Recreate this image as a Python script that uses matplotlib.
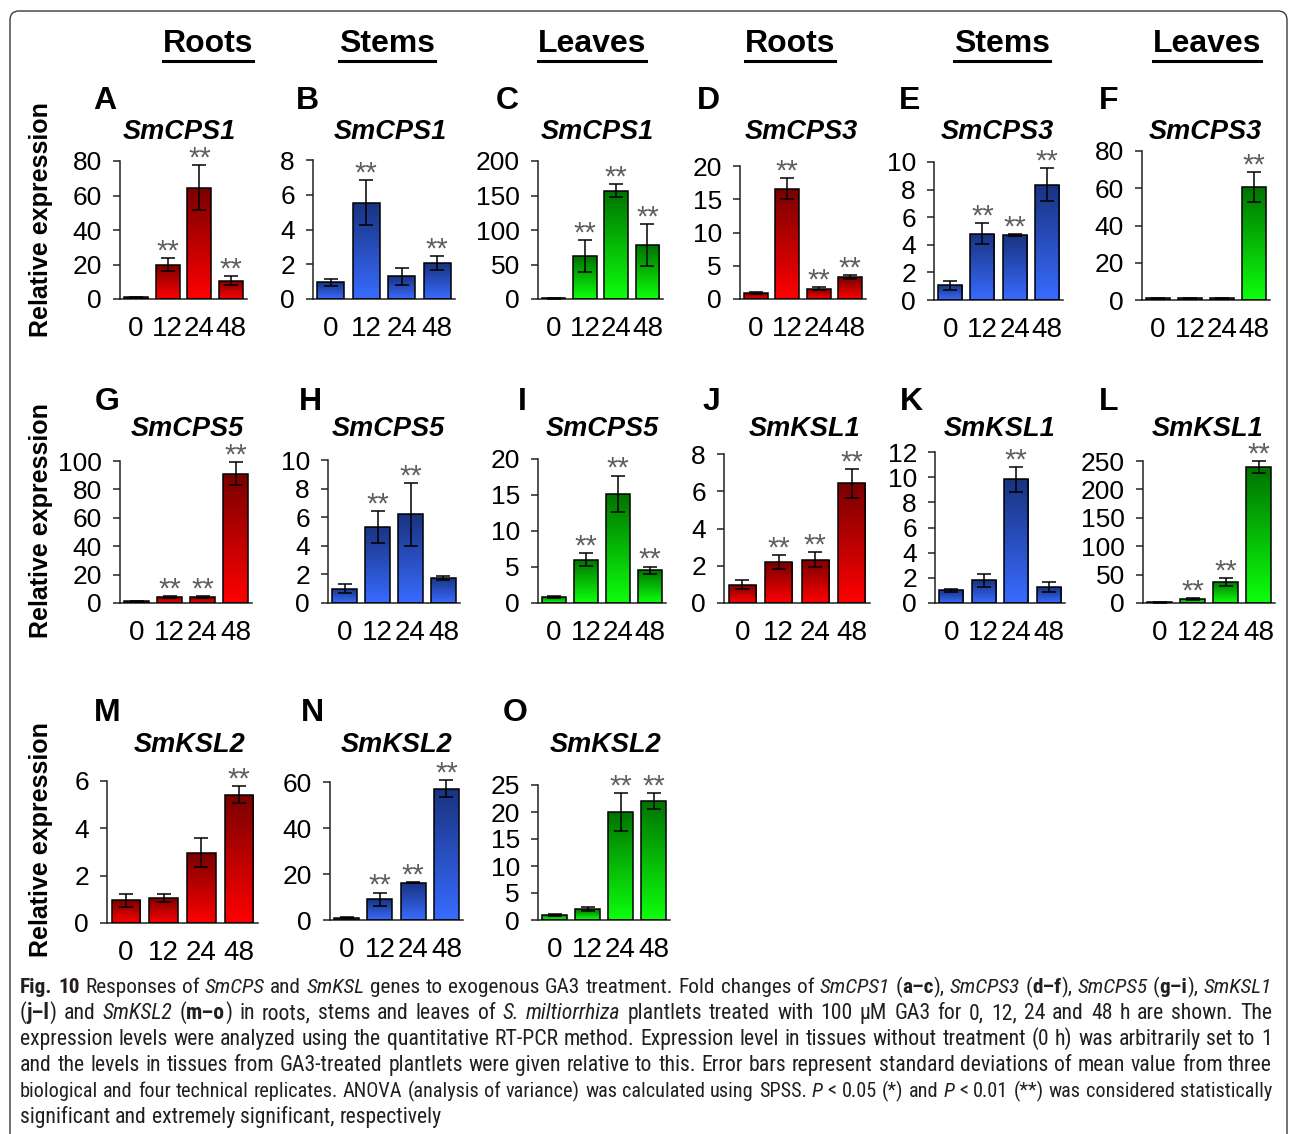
import numpy as np
import matplotlib
matplotlib.use("Agg")
import matplotlib.pyplot as plt
from matplotlib import font_manager
from matplotlib.patches import FancyBboxPatch
from matplotlib.lines import Line2D

W, H = 1290, 1134

hours = ["0", "12", "24", "48"]
tissue_headers = ["Roots", "Stems", "Leaves", "Roots", "Stems", "Leaves"]

# ---- relative expression (mean, SD, significance) ----
# SmCPS1
cps1_roots = [1.0, 20.0, 64.5, 10.6]
cps1_roots_sd = [0.3, 3.8, 12.9, 2.5]
cps1_roots_sig = ["", "**", "**", "**"]
cps1_stems = [0.96, 5.55, 1.3, 2.07]
cps1_stems_sd = [0.2, 1.3, 0.48, 0.4]
cps1_stems_sig = ["", "**", "", "**"]
cps1_leaves = [1.0, 62.0, 157.0, 78.0]
cps1_leaves_sd = [0.5, 23.0, 9.0, 30.0]
cps1_leaves_sig = ["", "**", "**", "**"]
# SmCPS3
cps3_roots = [0.9, 16.6, 1.55, 3.3]
cps3_roots_sd = [0.15, 1.6, 0.2, 0.3]
cps3_roots_sig = ["", "**", "**", "**"]
cps3_stems = [1.08, 4.8, 4.7, 8.35]
cps3_stems_sd = [0.32, 0.75, 0.08, 1.2]
cps3_stems_sig = ["", "**", "**", "**"]
cps3_leaves = [1.0, 1.0, 1.0, 60.8]
cps3_leaves_sd = [0.2, 0.2, 0.2, 8.0]
cps3_leaves_sig = ["", "", "", "**"]
# SmCPS5
cps5_roots = [1.2, 4.2, 4.2, 91.0]
cps5_roots_sd = [0.2, 0.4, 0.4, 8.0]
cps5_roots_sig = ["", "**", "**", "**"]
cps5_stems = [1.0, 5.33, 6.2, 1.75]
cps5_stems_sd = [0.3, 1.1, 2.2, 0.15]
cps5_stems_sig = ["", "**", "**", ""]
cps5_leaves = [0.84, 6.03, 15.2, 4.55]
cps5_leaves_sd = [0.1, 0.85, 2.5, 0.5]
cps5_leaves_sig = ["", "**", "**", "**"]
# SmKSL1
ksl1_roots = [0.99, 2.2, 2.33, 6.42]
ksl1_roots_sd = [0.23, 0.36, 0.42, 0.77]
ksl1_roots_sig = ["", "**", "**", "**"]
ksl1_stems = [1.0, 1.8, 9.83, 1.27]
ksl1_stems_sd = [0.15, 0.5, 1.0, 0.4]
ksl1_stems_sig = ["", "", "**", ""]
ksl1_leaves = [1.0, 7.6, 37.0, 239.0]
ksl1_leaves_sd = [0.2, 1.5, 7.0, 10.6]
ksl1_leaves_sig = ["", "**", "**", "**"]
# SmKSL2
ksl2_roots = [0.96, 1.06, 2.97, 5.42]
ksl2_roots_sd = [0.28, 0.18, 0.62, 0.35]
ksl2_roots_sig = ["", "", "", "**"]
ksl2_stems = [1.0, 9.0, 16.2, 57.1]
ksl2_stems_sd = [0.2, 2.9, 0.3, 3.6]
ksl2_stems_sig = ["", "**", "**", "**"]
ksl2_leaves = [0.93, 1.98, 20.06, 22.04]
ksl2_leaves_sd = [0.1, 0.35, 3.5, 1.5]
ksl2_leaves_sig = ["", "", "**", "**"]

# bar gradients (bottom colour, top colour)
gradients = {
    "red": ((1.0, 0.0, 0.0), (0.47, 0.0, 0.0)),
    "blue": ((0.22, 0.42, 1.0), (0.10, 0.20, 0.50)),
    "green": ((0.05, 1.0, 0.05), (0.0, 0.45, 0.0)),
}

# letter, gene, colour, data, ymax, ystep, axes box in px (left, right, top, zero),
# title centre x, letter centre x, row
panels = [
    ("A", "SmCPS1", "red", cps1_roots, cps1_roots_sd, cps1_roots_sig, 80, 20, (120, 247, 161, 299), 179, 105, 0),
    ("B", "SmCPS1", "blue", cps1_stems, cps1_stems_sd, cps1_stems_sig, 8, 2, (313, 455, 160, 299), 390, 307, 0),
    ("C", "SmCPS1", "green", cps1_leaves, cps1_leaves_sd, cps1_leaves_sig, 200, 50, (538, 663, 161, 299), 597, 507, 0),
    ("D", "SmCPS3", "red", cps3_roots, cps3_roots_sd, cps3_roots_sig, 20, 5, (740, 866, 166, 299), 801, 708, 0),
    ("E", "SmCPS3", "blue", cps3_stems, cps3_stems_sd, cps3_stems_sig, 10, 2, (934, 1063, 162, 300), 997, 910, 0),
    ("F", "SmCPS3", "green", cps3_leaves, cps3_leaves_sd, cps3_leaves_sig, 80, 20, (1142, 1270, 151, 300), 1205, 1109, 0),
    ("G", "SmCPS5", "red", cps5_roots, cps5_roots_sd, cps5_roots_sig, 100, 20, (120, 252, 461, 603), 187, 107, 1),
    ("H", "SmCPS5", "blue", cps5_stems, cps5_stems_sd, cps5_stems_sig, 10, 2, (328, 460, 460, 603), 388, 310, 1),
    ("I", "SmCPS5", "green", cps5_leaves, cps5_leaves_sd, cps5_leaves_sig, 20, 5, (538, 666, 459, 603), 602, 522, 1),
    ("J", "SmKSL1", "red", ksl1_roots, ksl1_roots_sd, ksl1_roots_sig, 8, 2, (724, 870, 454, 603), 805, 711, 1),
    ("K", "SmKSL1", "blue", ksl1_stems, ksl1_stems_sd, ksl1_stems_sig, 12, 2, (935, 1065, 452, 603), 1000, 911, 1),
    ("L", "SmKSL1", "green", ksl1_leaves, ksl1_leaves_sd, ksl1_leaves_sig, 250, 50, (1143, 1275, 461, 603), 1208, 1109, 1),
    ("M", "SmKSL2", "red", ksl2_roots, ksl2_roots_sd, ksl2_roots_sig, 6, 2, (107, 258, 781, 923), 190, 107, 2),
    ("N", "SmKSL2", "blue", ksl2_stems, ksl2_stems_sd, ksl2_stems_sig, 60, 20, (330, 463, 782, 920), 397, 312, 2),
    ("O", "SmKSL2", "green", ksl2_leaves, ksl2_leaves_sd, ksl2_leaves_sig, 25, 5, (538, 670, 785, 920), 606, 515, 2),
]

title_y = [132, 429, 745]
letter_y = [101, 402, 713]
ylabel_y = [220, 521, 840]
header_x = [208, 387, 592, 790, 1002, 1207]

available = {f.name for f in font_manager.fontManager.ttflist}
main_family = "Liberation Sans" if "Liberation Sans" in available else "DejaVu Sans"
plt.rcParams["font.family"] = [main_family, "DejaVu Sans"]

fig = plt.figure(figsize=(W / 100, H / 100), dpi=100)
fig.patch.set_facecolor("white")


def fx(x):
    return x / W


def fy(y):
    return 1 - y / H


def ftext(x, y, s, **kw):
    return fig.text(fx(x), fy(y), s, **kw)


# outer frame with rounded corners
frame = FancyBboxPatch((10 / 100, (H - 1250) / 100), (1287 - 10) / 100, (1250 - 11) / 100,
                       boxstyle="round,pad=0,rounding_size=0.09",
                       transform=fig.dpi_scale_trans, fill=False,
                       edgecolor="#3a3a3a", linewidth=1.0)
fig.add_artist(frame)

renderer = fig.canvas.get_renderer()

# column headers, underlined
for x, name in zip(header_x, tissue_headers):
    t = ftext(x, 52, name, ha="center", va="baseline", fontsize=23, fontweight="bold")
    bb = t.get_window_extent(renderer)
    fig.add_artist(Line2D([bb.x0 / W, bb.x1 / W], [fy(61), fy(61)],
                          transform=fig.transFigure, color="black", linewidth=2.2))

for y in ylabel_y:
    ftext(41, y, "Relative expression", rotation=90, ha="center", va="center",
          fontsize=18, fontweight="bold")

xpos = np.arange(len(hours))
for (letter, gene, cname, mean, sd, sig, ymax, ystep, box, tx, lx, row) in panels:
    left, right, top, zero = box
    ax = fig.add_axes([fx(left), fy(zero), (right - left) / W, (zero - top) / H])
    bars = ax.bar(xpos, mean, width=0.75, facecolor="none", edgecolor="black",
                  linewidth=1.1, zorder=3)
    c_bot, c_top = gradients[cname]
    ramp = np.linspace(0, 1, 128)[:, None, None]
    grad = (np.array(c_bot)[None, None, :] * (1 - ramp) + np.array(c_top)[None, None, :] * ramp)
    for rect in bars:
        x0 = rect.get_x()
        w = rect.get_width()
        h = rect.get_height()
        im = ax.imshow(grad, extent=[x0, x0 + w, 0, h], origin="lower",
                       aspect="auto", interpolation="bilinear", zorder=2)
        im.set_clip_path(rect)
    eb = ax.errorbar(xpos, mean, yerr=sd, fmt="none", ecolor="black", elinewidth=1.1,
                     capsize=4.7, capthick=1.1, zorder=4)
    for a in eb.get_children():
        a.set_clip_on(False)
    for i, s in enumerate(sig):
        if s:
            ax.annotate(s, xy=(xpos[i], mean[i] + sd[i]), xytext=(0, -1),
                        textcoords="offset points", ha="center", va="baseline",
                        fontsize=21, color="#5e5e5e", annotation_clip=False)
    ax.set_xlim(-0.5, 3.5)
    ax.set_ylim(0, ymax)
    ticks = np.arange(0, ymax + 0.001, ystep)
    ax.set_yticks(ticks)
    ax.set_yticklabels([f"{v:g}" for v in ticks])
    ax.set_xticks(xpos)
    ax.set_xticklabels(hours)
    ax.set_facecolor("none")
    for sp in ("top", "right"):
        ax.spines[sp].set_visible(False)
    for sp in ("left", "bottom"):
        ax.spines[sp].set_linewidth(1.1)
        ax.spines[sp].set_color("#222222")
    ax.tick_params(axis="y", direction="out", length=5, width=1.1, pad=8,
                   labelsize=19, color="#222222")
    ax.tick_params(axis="x", length=0, pad=12, labelsize=20)
    ftext(tx, title_y[row], gene, ha="center", va="center", fontsize=19.5,
          fontweight="bold", fontstyle="italic")
    ftext(lx, letter_y[row], letter, ha="center", va="center", fontsize=23,
          fontweight="bold")

# ---- caption ----
cap_family = main_family
for cand in ("Liberation Sans Narrow", "Roboto Condensed", "Open Sans Condensed"):
    if cand in available:
        cap_family = cand
        break

R, B, I = ("normal", "normal"), ("bold", "normal"), ("normal", "italic")
caption_lines = [
    [("Fig. 10", B), (" Responses of ", R), ("SmCPS", I), (" and ", R), ("SmKSL", I),
     (" genes to exogenous GA3 treatment. Fold changes of ", R), ("SmCPS1", I), (" (", R),
     ("a–c", B), ("), ", R), ("SmCPS3", I), (" (", R), ("d–f", B), ("), ", R), ("SmCPS5", I),
     (" (", R), ("g–i", B), ("), ", R), ("SmKSL1", I)],
    [("(", R), ("j–l", B), (") and ", R), ("SmKSL2", I), (" (", R), ("m–o", B),
     (") in roots, stems and leaves of ", R), ("S. miltiorrhiza", I),
     (" plantlets treated with 100 μM GA3 for 0, 12, 24 and 48 h are shown. The", R)],
    [("expression levels were analyzed using the quantitative RT-PCR method. Expression level in "
      "tissues without treatment (0 h) was arbitrarily set to 1", R)],
    [("and the levels in tissues from GA3-treated plantlets were given relative to this. Error bars "
      "represent standard deviations of mean value from three", R)],
    [("biological and four technical replicates. ANOVA (analysis of variance) was calculated using "
      "SPSS. ", R), ("P", I), (" < 0.05 (*) and ", R), ("P", I),
     (" < 0.01 (**) was considered statistically", R)],
    [("significant and extremely significant, respectively", R)],
]
cap_base = [993, 1019, 1045, 1071, 1097, 1123]
cap_left, cap_right = 20, 1272
cap_color = "#231f20"


def split_pieces(runs):
    pieces = []
    gap = False
    for text, (wt, st) in runs:
        parts = text.split(" ")
        for k, p in enumerate(parts):
            if k > 0:
                gap = True
            if p:
                pieces.append((p, wt, st, gap and len(pieces) > 0))
                gap = False
    return pieces


def space_width(fs):
    p1 = fig.text(0, 0, "x x", fontsize=fs, family=cap_family)
    p2 = fig.text(0, 0, "xx", fontsize=fs, family=cap_family)
    w = p1.get_window_extent(renderer).width - p2.get_window_extent(renderer).width
    p1.remove()
    p2.remove()
    return w


def draw_line(pieces, y, fs, space):
    x = cap_left
    arts = []
    for p, wt, st, gap in pieces:
        if gap:
            x += space
        t = ftext(x, y, p, ha="left", va="baseline", fontsize=fs, fontweight=wt,
                  fontstyle=st, family=cap_family, color=cap_color)
        x += t.get_window_extent(renderer).width
        arts.append(t)
    return arts, x


# font size: the typical natural fit of the full lines; a line that would
# overflow at that size is set slightly smaller
probe_fs = 14.0
probe_space = space_width(probe_fs)
fits = []
for li, runs in enumerate(caption_lines[:-1]):
    arts, xr = draw_line(split_pieces(runs), cap_base[li], probe_fs, probe_space)
    for a in arts:
        a.remove()
    fits.append(probe_fs * (cap_right - cap_left) / (xr - cap_left))
cap_fs = float(np.median(fits))

# full lines are justified by adjusting the word gaps
for li, runs in enumerate(caption_lines):
    pcs = split_pieces(runs)
    if li < len(caption_lines) - 1:
        fs = min(cap_fs, fits[li] * 0.995)
        nat = space_width(fs)
        arts, xr = draw_line(pcs, cap_base[li], fs, nat)
        for a in arts:
            a.remove()
        ngaps = sum(1 for p in pcs if p[3])
        sp = nat + (cap_right - xr) / max(ngaps, 1)
        draw_line(pcs, cap_base[li], fs, sp)
    else:
        draw_line(pcs, cap_base[li], cap_fs, space_width(cap_fs))

fig.savefig("out.png", dpi=100, facecolor="white")
